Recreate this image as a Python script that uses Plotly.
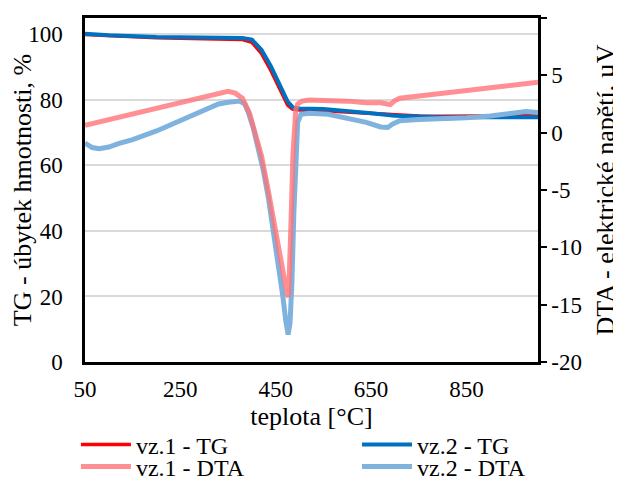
import plotly.graph_objects as go

# ---- data ----
tg1_T = [50, 100, 200, 300, 380, 400, 420, 440, 460, 475, 485, 500, 550, 600, 650, 700, 750, 800, 900, 1000]
tg1 = [100.0, 99.6, 99.0, 98.7, 98.4, 97.6, 94.2, 88.9, 82.8, 78.4, 77.2, 76.9, 76.7, 76.3, 75.8, 75.3, 75.1, 75.0, 75.1, 75.2]

tg2_T = [50, 100, 200, 300, 380, 400, 420, 440, 460, 475, 487, 500, 550, 600, 650, 700, 750, 800, 900, 1000]
tg2 = [100.2, 99.7, 99.2, 99.0, 98.9, 98.4, 95.3, 90.2, 84.2, 79.5, 77.6, 77.4, 77.2, 76.7, 75.9, 75.2, 74.8, 74.7, 74.7, 74.7]

dta1_T = [50, 75, 100, 150, 200, 250, 300, 330, 350, 365, 380, 395, 407, 420, 435, 449, 462, 470, 474, 477,
          480, 483, 486, 489, 492, 496, 505, 520, 560, 600, 640, 670, 690, 700, 710, 750, 800, 850, 900, 950, 1000]
dta1 = [0.65, 0.9, 1.15, 1.6, 2.05, 2.6, 3.1, 3.4, 3.6, 3.45, 3.0, 1.7, 0.1, -2.0, -5.2, -8.5, -11.4, -13.2, -14.1, -14.3,
        -11.5, -6.5, -2.0, 0.8, 2.0, 2.5, 2.75, 2.85, 2.85, 2.75, 2.6, 2.6, 2.45, 2.8, 3.0, 3.2, 3.4, 3.6, 3.85, 4.1, 4.4]

dta2_T = [50, 65, 80, 100, 120, 150, 200, 250, 300, 330, 350, 375, 385, 392, 403, 413, 424, 435, 445, 455, 465, 471, 476,
          480, 484, 488, 492, 496, 503, 520, 560, 600, 640, 670, 685, 695, 710, 750, 800, 850, 900, 950, 975, 1000]
dta2 = [-0.9, -1.3, -1.4, -1.25, -0.95, -0.6, 0.15, 1.05, 2.0, 2.5, 2.65, 2.75, 2.5, 1.83, 0.4, -1.4, -3.3, -5.8, -8.5, -11.4, -14.3, -16.4, -17.6,
        -16.6, -13.0, -7.0, -2.0, 0.9, 1.6, 1.7, 1.6, 1.3, 0.9, 0.5, 0.45, 0.75, 1.05, 1.15, 1.2, 1.3, 1.45, 1.65, 1.85, 1.75]

x_ticks = [50, 250, 450, 650, 850]
y_ticks = [0, 20, 40, 60, 80, 100]
y2_ticks = [-20, -15, -10, -5, 0, 5, 10]
y2_labels = ["-20", "-15", "-10", "-5", "0", "5", "10"]

FONT = "Liberation Serif"
TICK = 23
TITLE = 26
LEG = 24

fig = go.Figure()
fig.add_trace(go.Scatter(x=tg1_T, y=tg1, name="vz.1 - TG", mode="lines", legend="legend",
                         line=dict(color="#FF0000", width=3.5)))
fig.add_trace(go.Scatter(x=tg2_T, y=tg2, name="vz.2 - TG", mode="lines", legend="legend2",
                         line=dict(color="#0070C0", width=4)))
fig.add_trace(go.Scatter(x=dta2_T, y=dta2, name="vz.2 - DTA", mode="lines", yaxis="y2", legend="legend4",
                         line=dict(color="#7FB3DE", width=5)))
fig.add_trace(go.Scatter(x=dta1_T, y=dta1, name="vz.1 - DTA", mode="lines", yaxis="y2", legend="legend3",
                         line=dict(color="rgba(255,115,120,0.8)", width=5)))

leg_common = dict(orientation="h", xanchor="left", yanchor="middle", font=dict(size=LEG),
                  bgcolor="rgba(0,0,0,0)", itemwidth=50)

fig.update_layout(
    width=613, height=471,
    margin=dict(l=77, r=83, t=10, b=117, autoexpand=False),
    paper_bgcolor="white", plot_bgcolor="white",
    font=dict(family=FONT, size=TICK, color="black"),
    xaxis=dict(range=[50, 1000], tickvals=x_ticks, showgrid=False, zeroline=False,
               showline=True, linecolor="black", linewidth=2.5, mirror=True,
               ticks="", tickfont=dict(size=TICK), ticklabelstandoff=5,
               title=dict(text="teplota [°C]", font=dict(size=TITLE), standoff=1)),
    yaxis=dict(range=[0, 105], tickvals=y_ticks, showgrid=True, gridcolor="#D9D9D9", gridwidth=1.5,
               zeroline=False, showline=True, linecolor="black", linewidth=2.5,
               ticks="", tickfont=dict(size=TICK), ticklabelstandoff=15,
               title=dict(text="TG - úbytek hmotnosti, %", font=dict(size=TITLE), standoff=0)),
    yaxis2=dict(range=[-20, 10], tickvals=y2_ticks, ticktext=y2_labels, overlaying="y", side="right",
                showgrid=False, zeroline=False, showline=True, linecolor="black", linewidth=2.5,
                ticks="outside", ticklen=6, tickwidth=2, tickcolor="black", tickfont=dict(size=TICK),
                title=dict(text="DTA - elektrické napětí, µV", font=dict(size=TITLE), standoff=15)),
    legend=dict(x=-0.02, y=-0.2413, **leg_common),
    legend2=dict(x=0.6005, y=-0.2413, **leg_common),
    legend3=dict(x=-0.02, y=-0.305, **leg_common),
    legend4=dict(x=0.6005, y=-0.305, **leg_common),
    showlegend=True,
)

fig.write_html("out.html")
